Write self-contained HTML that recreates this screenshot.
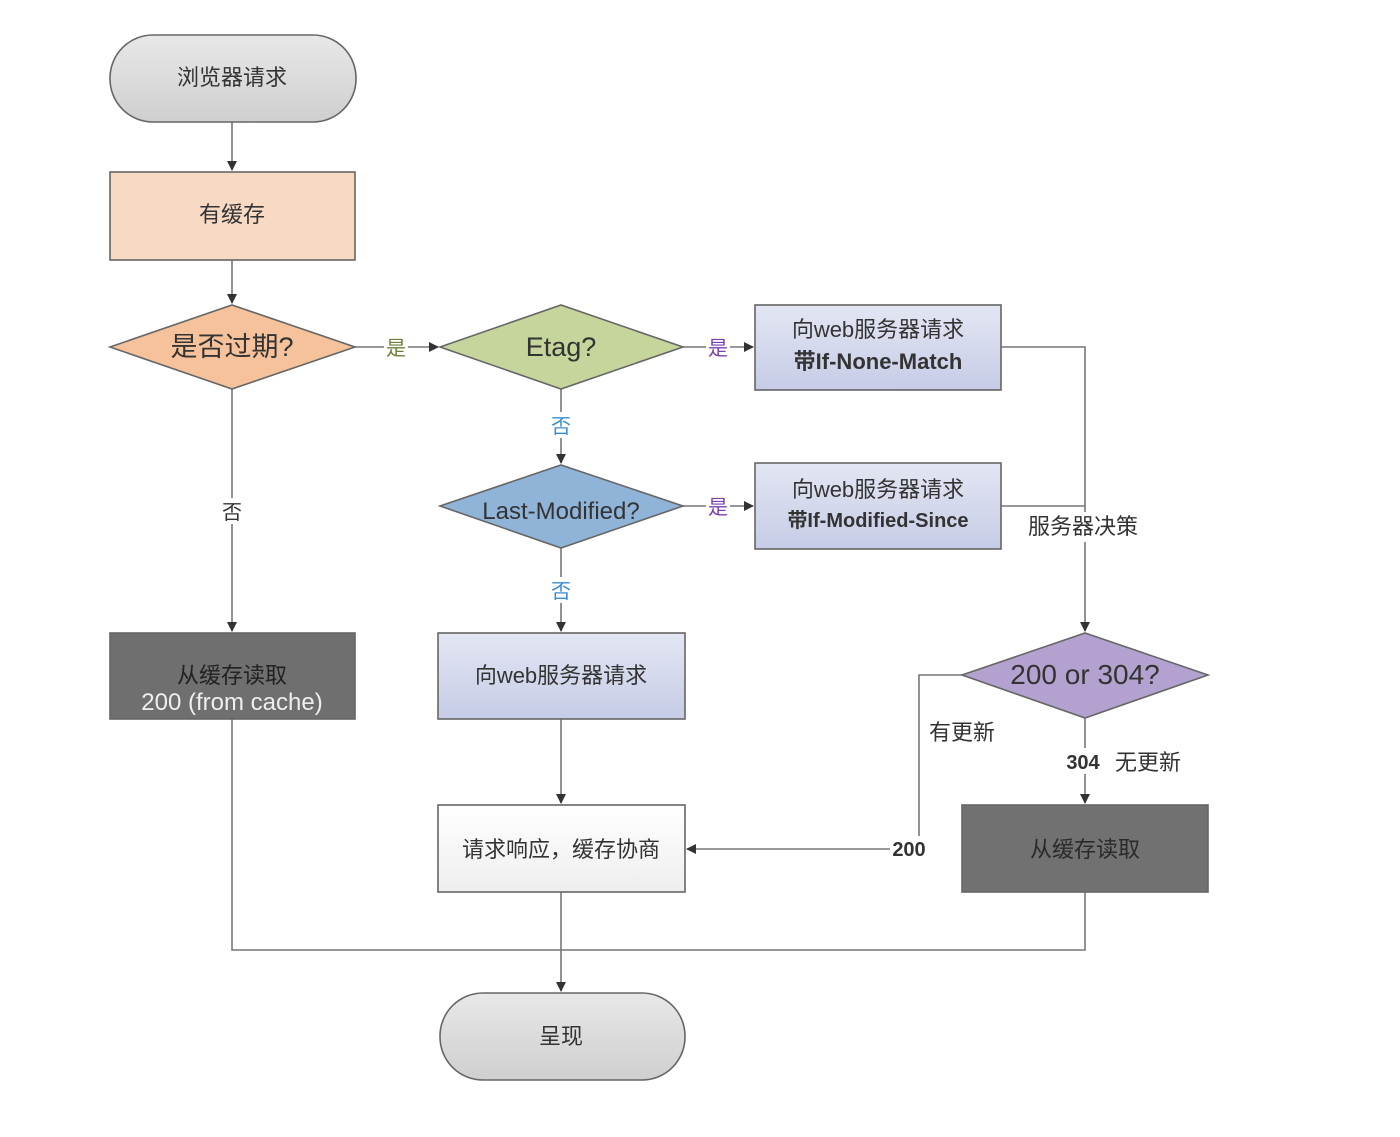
<!DOCTYPE html>
<html><head><meta charset="utf-8"><style>
html,body{margin:0;padding:0;background:#fff;}
svg text{font-family:"Liberation Sans","Noto Sans CJK SC",sans-serif;}
</style></head><body>
<svg width="1400" height="1132" viewBox="0 0 1400 1132" xmlns="http://www.w3.org/2000/svg">
<defs>
<marker id="a" markerWidth="10" markerHeight="10" refX="9" refY="5" orient="auto" markerUnits="userSpaceOnUse"><path d="M0,0 L10,5 L0,10 z" fill="#333"/></marker>
<linearGradient id="gp" x1="0" y1="0" x2="0" y2="1"><stop offset="0" stop-color="#e8e8e8"/><stop offset="1" stop-color="#cfcfcf"/></linearGradient>
<linearGradient id="gb" x1="0" y1="0" x2="0" y2="1"><stop offset="0" stop-color="#e3e6f3"/><stop offset="1" stop-color="#c6cce6"/></linearGradient>
<linearGradient id="gw" x1="0" y1="0" x2="0" y2="1"><stop offset="0" stop-color="#ffffff"/><stop offset="1" stop-color="#eeeeee"/></linearGradient>
</defs>
<g stroke="#777" stroke-width="1.6" fill="none">
<path d="M232 122 V170" marker-end="url(#a)"/>
<path d="M232 260 V303" marker-end="url(#a)"/>
<path d="M232 389 V631" marker-end="url(#a)"/>
<path d="M355 347 H438" marker-end="url(#a)"/>
<path d="M683 347 H753" marker-end="url(#a)"/>
<path d="M561 389 V463" marker-end="url(#a)"/>
<path d="M683 506 H753" marker-end="url(#a)"/>
<path d="M561 548 V631" marker-end="url(#a)"/>
<path d="M561 719 V803" marker-end="url(#a)"/>
<path d="M1001 347 H1085 V631" marker-end="url(#a)"/>
<path d="M1001 506 H1085"/>
<path d="M962 675 H919 V849 H687" marker-end="url(#a)"/>
<path d="M1085 718 V803" marker-end="url(#a)"/>
<path d="M232 719 V950 H1085 V892"/>
<path d="M561 892 V991" marker-end="url(#a)"/>
</g>
<g stroke="#666" stroke-width="1.6">
<rect x="110" y="35" width="246" height="87" rx="43" fill="url(#gp)"/>
<rect x="110" y="172" width="245" height="88" fill="#f8d9c4"/>
<polygon points="110,347 232,305 355,347 232,389" fill="#f6c29c"/>
<polygon points="440,347 561,305 683,347 561,389" fill="#c5d59c"/>
<rect x="755" y="305" width="246" height="85" fill="url(#gb)"/>
<polygon points="440,506 561,465 683,506 561,548" fill="#8fb4d8"/>
<rect x="755" y="463" width="246" height="86" fill="url(#gb)"/>
<rect x="110" y="633" width="245" height="86" fill="#6f6f6f"/>
<rect x="438" y="633" width="247" height="86" fill="url(#gb)"/>
<rect x="438" y="805" width="247" height="87" fill="url(#gw)"/>
<polygon points="962,675 1085,633 1208,675 1085,718" fill="#b3a2cf"/>
<rect x="962" y="805" width="246" height="87" fill="#717171"/>
<rect x="440" y="993" width="245" height="87" rx="43" fill="url(#gp)"/>
</g>
<g font-size="22" fill="#333" text-anchor="middle">
<text x="232" y="85">浏览器请求</text>
<text x="232" y="222">有缓存</text>
<text x="232" y="356" font-size="27">是否过期?</text>
<text x="561" y="356" font-size="27">Etag?</text>
<text x="878" y="337">向web服务器请求</text>
<text x="878" y="369" font-weight="bold">带If-None-Match</text>
<text x="561" y="519" font-size="24">Last-Modified?</text>
<text x="878" y="497">向web服务器请求</text>
<text x="878" y="527" font-weight="bold" font-size="20">带If-Modified-Since</text>
<text x="232" y="683" fill="#222">从缓存读取</text>
<text x="232" y="710" fill="#eee" font-size="24">200 (from cache)</text>
<text x="561" y="683">向web服务器请求</text>
<text x="561" y="857">请求响应，缓存协商</text>
<text x="1085" y="684" font-size="28">200 or 304?</text>
<text x="1085" y="857" fill="#2a2a2a">从缓存读取</text>
<text x="561" y="1044">呈现</text>
</g>
<g font-size="20" text-anchor="middle">
<rect x="384" y="334" width="24" height="26" fill="#fff"/><text x="396" y="355" fill="#6d7f3a">是</text>
<rect x="706" y="334" width="24" height="26" fill="#fff"/><text x="718" y="355" fill="#7b3fb0">是</text>
<rect x="706" y="493" width="24" height="26" fill="#fff"/><text x="718" y="514" fill="#7b3fb0">是</text>
<rect x="549" y="412" width="24" height="26" fill="#fff"/><text x="561" y="433" fill="#3a8ed0">否</text>
<rect x="549" y="577" width="24" height="26" fill="#fff"/><text x="561" y="598" fill="#3a8ed0">否</text>
<rect x="220" y="498" width="24" height="26" fill="#fff"/><text x="232" y="519" fill="#333">否</text>
<rect x="1021" y="512" width="124" height="30" fill="#fff"/><text x="1083" y="534" fill="#333" font-size="22">服务器决策</text>
<text x="962" y="740" fill="#333" font-size="22">有更新</text>
<rect x="1063" y="748" width="40" height="26" fill="#fff"/><text x="1083" y="769" fill="#333" font-weight="bold">304</text>
<text x="1148" y="770" fill="#333" font-size="22">无更新</text>
<rect x="890" y="836" width="38" height="26" fill="#fff"/><text x="909" y="856" fill="#333" font-weight="bold">200</text>
</g>
</svg>
</body></html>
